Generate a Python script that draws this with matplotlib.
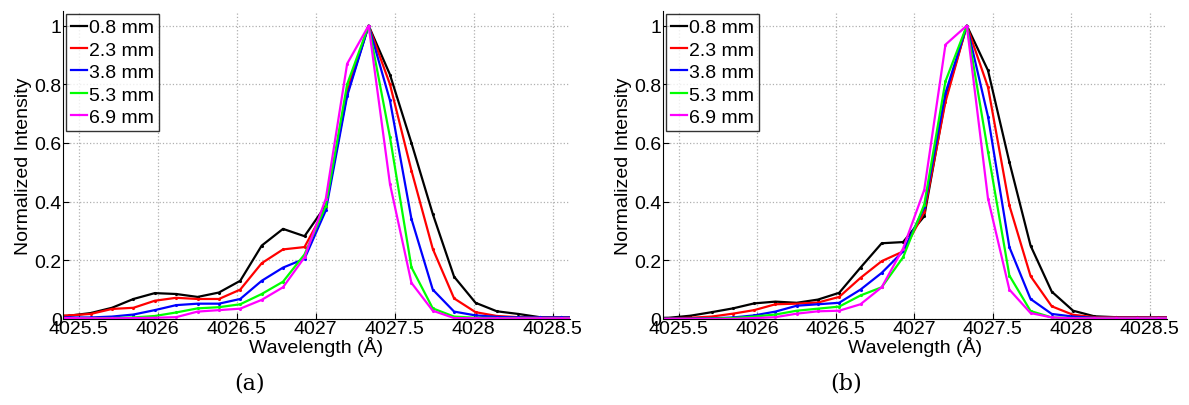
import matplotlib
matplotlib.use('Agg')
import matplotlib.pyplot as plt

plt.rcParams['font.family'] = ['Liberation Sans', 'DejaVu Sans']

# wavelength grid (Angstrom)
wavelength = [4025.304, 4025.439, 4025.575, 4025.710, 4025.846, 4025.981, 4026.116,
              4026.252, 4026.387, 4026.522, 4026.658, 4026.793, 4026.929, 4027.064,
              4027.199, 4027.335, 4027.470, 4027.606, 4027.741, 4027.876, 4028.012,
              4028.147, 4028.282, 4028.418, 4028.553, 4028.689]

labels = ['0.8 mm', '2.3 mm', '3.8 mm', '5.3 mm', '6.9 mm']
colors = ['#000000', '#ff0000', '#0000ff', '#00ff00', '#ff00ff']

# panel (a)
a_08 = [0.008, 0.011, 0.020, 0.038, 0.068, 0.088, 0.085, 0.075, 0.090, 0.130, 0.250, 0.307, 0.282,
        0.387, 0.768, 1.000, 0.833, 0.600, 0.358, 0.144, 0.055, 0.026, 0.017, 0.006, 0.005, 0.005]
a_23 = [0.009, 0.012, 0.017, 0.034, 0.038, 0.062, 0.072, 0.068, 0.068, 0.100, 0.190, 0.237, 0.245,
        0.380, 0.780, 1.000, 0.800, 0.506, 0.239, 0.070, 0.023, 0.010, 0.006, 0.005, 0.005, 0.005]
a_38 = [0.005, 0.005, 0.005, 0.008, 0.015, 0.030, 0.047, 0.052, 0.052, 0.068, 0.130, 0.175, 0.205,
        0.370, 0.760, 1.000, 0.745, 0.341, 0.100, 0.025, 0.012, 0.007, 0.005, 0.005, 0.005, 0.005]
a_53 = [0.003, 0.003, 0.003, 0.003, 0.005, 0.010, 0.022, 0.036, 0.040, 0.050, 0.085, 0.127, 0.220,
        0.385, 0.800, 1.000, 0.620, 0.176, 0.036, 0.008, 0.004, 0.003, 0.003, 0.003, 0.003, 0.003]
a_69 = [0.003, 0.003, 0.002, 0.002, 0.003, 0.004, 0.006, 0.025, 0.030, 0.035, 0.065, 0.108, 0.210,
        0.410, 0.870, 1.000, 0.460, 0.123, 0.028, 0.003, 0.002, 0.002, 0.002, 0.002, 0.002, 0.002]

# panel (b)
b_08 = [0.003, 0.004, 0.011, 0.023, 0.036, 0.053, 0.059, 0.055, 0.066, 0.089, 0.175, 0.258, 0.262,
        0.350, 0.750, 1.000, 0.847, 0.535, 0.250, 0.093, 0.028, 0.009, 0.006, 0.005, 0.004, 0.004]
b_23 = [0.001, 0.002, 0.004, 0.008, 0.018, 0.030, 0.050, 0.052, 0.056, 0.075, 0.140, 0.197, 0.230,
        0.364, 0.740, 1.000, 0.790, 0.387, 0.146, 0.043, 0.014, 0.006, 0.006, 0.006, 0.006, 0.006]
b_38 = [0.001, 0.001, 0.001, 0.002, 0.005, 0.012, 0.025, 0.045, 0.050, 0.055, 0.100, 0.157, 0.230,
        0.380, 0.770, 1.000, 0.690, 0.245, 0.068, 0.017, 0.008, 0.004, 0.004, 0.004, 0.004, 0.004]
b_53 = [0.000, 0.000, 0.000, 0.001, 0.003, 0.008, 0.015, 0.028, 0.035, 0.042, 0.080, 0.108, 0.210,
        0.390, 0.810, 1.000, 0.570, 0.148, 0.027, 0.005, 0.003, 0.003, 0.003, 0.003, 0.003, 0.003]
b_69 = [0.000, 0.000, 0.000, 0.000, 0.000, 0.003, 0.006, 0.018, 0.026, 0.028, 0.050, 0.108, 0.240,
        0.440, 0.935, 1.000, 0.410, 0.100, 0.020, 0.005, 0.002, 0.002, 0.002, 0.002, 0.002, 0.002]

xticks = [4025.5, 4026, 4026.5, 4027, 4027.5, 4028, 4028.5]
xticklabels = ['4025.5', '4026', '4026.5', '4027', '4027.5', '4028', '4028.5']
yticks = [0, 0.2, 0.4, 0.6, 0.8, 1]
yticklabels = ['0', '0.2', '0.4', '0.6', '0.8', '1']

fig = plt.figure(figsize=(11.89, 4.06), dpi=100)
panels = [
    ([0.053, 0.212, 0.4264, 0.7586], [a_08, a_23, a_38, a_53, a_69], '(a)', 0.210),
    ([0.5576, 0.212, 0.4239, 0.7586], [b_08, b_23, b_38, b_53, b_69], '(b)', 0.712),
]

fs = 14
for pos, series, caption, cap_x in panels:
    ax = fig.add_axes(pos)
    for ys, c, lab in zip(series, colors, labels):
        ax.plot(wavelength, ys, '-', color=c, lw=1.6, label=lab)
        # small point markers (not in legend)
        ax.plot(wavelength, ys, '.', color=c, markersize=2.5)
    ax.set_xlim(4025.4, 4028.61)
    ax.set_ylim(0, 1.05)
    ax.set_xticks(xticks)
    ax.set_xticklabels(xticklabels)
    ax.set_yticks(yticks)
    ax.set_yticklabels(yticklabels)
    ax.tick_params(direction='in', length=4, width=0.8, labelsize=fs, pad=1)
    ax.grid(True, linestyle=':', color='#b0b0b0', linewidth=0.9)
    ax.spines['top'].set_visible(False)
    ax.spines['right'].set_visible(False)
    ax.set_xlabel('Wavelength (Å)', fontsize=fs, labelpad=-1)
    ax.set_ylabel('Normalized Intensity', fontsize=fs, labelpad=2)
    leg = ax.legend(loc='upper left', fontsize=fs, frameon=True, fancybox=False,
                    handlelength=0.85, handletextpad=0.1, labelspacing=0.25,
                    borderpad=0.25, borderaxespad=0.15)
    leg.get_frame().set_edgecolor('black')
    leg.get_frame().set_linewidth(1.0)
    fig.text(cap_x, 0.055, caption, ha='center', va='center', fontsize=16,
             family='DejaVu Serif')

fig.savefig('out.png', dpi=100)
